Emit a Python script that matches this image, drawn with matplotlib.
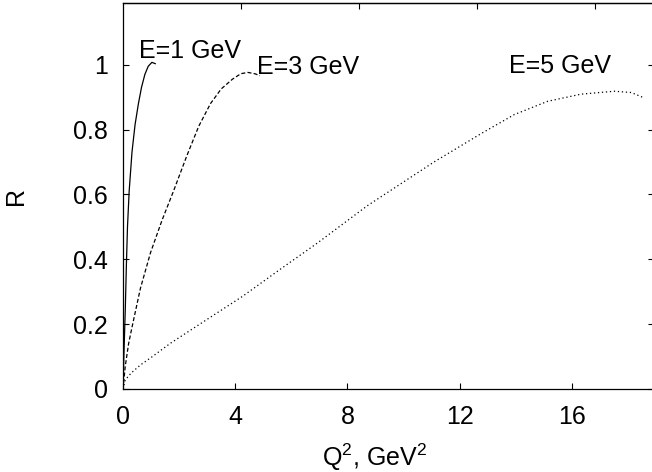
import matplotlib
matplotlib.use("Agg")
import matplotlib.pyplot as plt

plt.rcParams["font.family"] = ["Liberation Sans", "DejaVu Sans"]
plt.rcParams["font.size"] = 18
plt.rcParams["mathtext.fontset"] = "custom"
plt.rcParams["mathtext.rm"] = "Liberation Sans"

# R(Q^2) curves for three beam energies
q2_e1 = [0.0, 0.03, 0.08, 0.12, 0.16, 0.22, 0.32, 0.43, 0.55, 0.66, 0.78, 0.9, 1.03, 1.15]
r_e1 = [0.0, 0.10, 0.24, 0.38, 0.50, 0.61, 0.73, 0.815, 0.88, 0.93, 0.97, 0.995, 1.007, 1.003]

q2_e3 = [0.0, 0.08, 0.2, 0.32, 0.62, 0.98, 1.39, 1.8, 2.28, 2.7, 3.12, 3.5, 3.9, 4.2, 4.45, 4.7, 4.88]
r_e3 = [0.0, 0.07, 0.14, 0.19, 0.31, 0.42, 0.52, 0.61, 0.72, 0.81, 0.88, 0.925, 0.955, 0.972, 0.976, 0.972, 0.966]

q2_e5 = [0.0, 0.08, 0.3, 0.62, 1.0, 1.69, 2.88, 4.25, 5.62, 6.93, 8.71, 11.09, 12.76, 13.95, 15.14, 16.33, 17.52, 18.12, 18.59]
r_e5 = [0.0, 0.028, 0.05, 0.074, 0.097, 0.141, 0.208, 0.285, 0.37, 0.45, 0.565, 0.70, 0.787, 0.846, 0.887, 0.909, 0.918, 0.914, 0.897]

labels = ["E=1 GeV", "E=3 GeV", "E=5 GeV"]
label_pos = [(0.58, 1.02), (4.79, 0.972), (13.77, 0.974)]

xticks = [0, 4, 8, 12, 16]
yticks = [0, 0.2, 0.4, 0.6, 0.8, 1]
top_ticks = [4.21, 8.42, 12.63, 16.84]

fig = plt.figure(figsize=(6.52, 4.72), dpi=100)
ax = fig.add_axes([123 / 652, 83 / 472, 531 / 652, 386 / 472])

lw = 0.9
ax.plot(q2_e1, r_e1, color="black", lw=lw, linestyle="-")
ax.plot(q2_e3, r_e3, color="black", lw=lw, linestyle=(0, (3.2, 1.8)))
ax.plot(q2_e5, r_e5, color="black", lw=lw, linestyle=(0, (1.0, 2.2)))

for text, (x, y) in zip(labels, label_pos):
    ax.text(x, y, text, ha="left", va="baseline")

ax.set_xlim(0, 18.93)
ax.set_ylim(0, 1.19)
ax.set_xticks(xticks)
ax.set_xticklabels([str(t) for t in xticks])
ax.set_yticks(yticks)
ax.set_yticklabels(["0", "0.2", "0.4", "0.6", "0.8", "1"])
ax.tick_params(direction="in", length=4.3, width=0.8, right=True, pad=11)
ax.tick_params(axis="x", pad=11.5)

top = ax.secondary_xaxis("top")
top.set_xticks(top_ticks)
top.set_xticklabels([])
top.tick_params(direction="in", length=4.3, width=0.8)

for sp in ax.spines.values():
    sp.set_linewidth(0.9)
top.spines["top"].set_linewidth(0.9)

ax.set_xlabel(r"Q$^2$, GeV$^2$")
ax.xaxis.set_label_coords(0.473, -0.135)
ax.set_ylabel("R")
ax.yaxis.set_label_coords(-0.178, 0.5)

fig.savefig("out.png", dpi=100)
